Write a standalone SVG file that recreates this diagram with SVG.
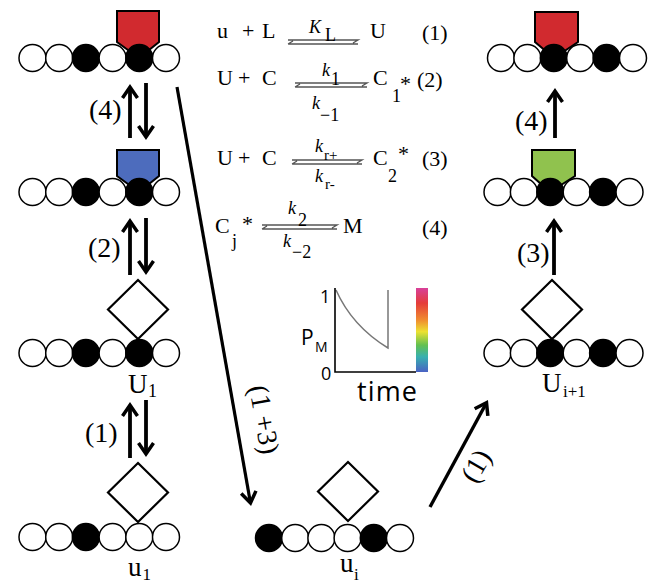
<svg xmlns="http://www.w3.org/2000/svg" width="648" height="584" viewBox="0 0 648 584">
<style>
.c{fill:#fff;stroke:#000;stroke-width:1.5}
.b{fill:#000;stroke:#000;stroke-width:1.5}
.dm{fill:#fff;stroke:#000;stroke-width:2.2}
.sq{stroke:#000;stroke-width:2}
.ar{stroke:#000;fill:none;stroke-width:3.8;marker-end:url(#ah)}
.tm{font-family:"Liberation Serif","Times New Roman",serif;fill:#000}
.eq{font-size:22px}
.sm{font-size:18px}
.lb{font-size:28px}
.nm{font-size:27px}
.sn{font-family:"Open Sans","Liberation Sans",sans-serif;fill:#000}
.hp{stroke:#555;stroke-width:1.4;fill:none}
</style>
<defs>
<marker id="ah" viewBox="-15 -10 20 20" markerWidth="20" markerHeight="20" refX="0" refY="0" markerUnits="userSpaceOnUse" orient="auto">
<path d="M-11,-7.5 L0,0 L-11,7.5" fill="none" stroke="#000" stroke-width="3.5"/>
</marker>
<linearGradient id="cb" x1="0" y1="0" x2="0" y2="1">
<stop offset="0" stop-color="#d8409a"/>
<stop offset="0.18" stop-color="#e53c3a"/>
<stop offset="0.38" stop-color="#f08c30"/>
<stop offset="0.52" stop-color="#ece232"/>
<stop offset="0.68" stop-color="#62c050"/>
<stop offset="0.82" stop-color="#38b0b0"/>
<stop offset="1" stop-color="#4a62c4"/>
</linearGradient>
</defs>

<g id="left-red">
<polygon class="sq" fill="#d12a2f" points="117,11 159,11 159,42 139,58 117,42"/>
<circle class="c" cx="32.5" cy="58" r="13.5"/>
<circle class="c" cx="59.2" cy="58" r="13.5"/>
<circle class="b" cx="85.9" cy="58" r="13.5"/>
<circle class="c" cx="112.6" cy="58" r="13.5"/>
<circle class="b" cx="139.3" cy="58" r="13.5"/>
<circle class="c" cx="166" cy="58" r="13.5"/>
</g>

<g id="left-blue">
<polygon class="sq" fill="#4d6cbd" points="117,150 159,150 159,176 139,192 117,176"/>
<circle class="c" cx="32.5" cy="192" r="13.5"/>
<circle class="c" cx="59.2" cy="192" r="13.5"/>
<circle class="b" cx="85.9" cy="192" r="13.5"/>
<circle class="c" cx="112.6" cy="192" r="13.5"/>
<circle class="b" cx="139.3" cy="192" r="13.5"/>
<circle class="c" cx="166" cy="192" r="13.5"/>
</g>

<g id="U1">
<polygon class="dm" points="138,280 168,309.5 138,339 108,309.5"/>
<circle class="c" cx="32.5" cy="353" r="13.5"/>
<circle class="c" cx="59.2" cy="353" r="13.5"/>
<circle class="b" cx="85.9" cy="353" r="13.5"/>
<circle class="c" cx="112.6" cy="353" r="13.5"/>
<circle class="b" cx="139.3" cy="353" r="13.5"/>
<circle class="c" cx="166" cy="353" r="13.5"/>
<text class="tm nm" x="128" y="393">U</text>
<text class="tm sm" x="148" y="397">1</text>
</g>

<g id="u1">
<polygon class="dm" points="138,463 168,492.5 138,522 108,492.5"/>
<circle class="c" cx="32.5" cy="537" r="13.5"/>
<circle class="c" cx="59.2" cy="537" r="13.5"/>
<circle class="b" cx="85.9" cy="537" r="13.5"/>
<circle class="c" cx="112.6" cy="537" r="13.5"/>
<circle class="c" cx="139.3" cy="537" r="13.5"/>
<circle class="c" cx="166" cy="537" r="13.5"/>
<text class="tm nm" x="128" y="576">u</text>
<text class="tm" font-size="17" x="142.5" y="580">1</text>
</g>

<g id="ui">
<polygon class="dm" points="348,462 378,491.5 348,521 318,491.5"/>
<circle class="b" cx="269" cy="538" r="13.5"/>
<circle class="c" cx="295.2" cy="538" r="13.5"/>
<circle class="c" cx="321.4" cy="538" r="13.5"/>
<circle class="c" cx="347.6" cy="538" r="13.5"/>
<circle class="b" cx="373.8" cy="538" r="13.5"/>
<circle class="c" cx="400" cy="538" r="13.5"/>
<text class="tm nm" x="340" y="572">u</text>
<text class="tm" font-size="17" x="354" y="580">i</text>
</g>

<g id="right-red">
<polygon class="sq" fill="#d12a2f" points="535,12 578,12 578,42 554,58 535,42"/>
<circle class="c" cx="501" cy="58" r="13.5"/>
<circle class="c" cx="527.4" cy="58" r="13.5"/>
<circle class="b" cx="553.8" cy="58" r="13.5"/>
<circle class="c" cx="580.2" cy="58" r="13.5"/>
<circle class="b" cx="606.6" cy="58" r="13.5"/>
<circle class="c" cx="633" cy="58" r="13.5"/>
</g>

<g id="right-green">
<polygon class="sq" fill="#90c24e" points="532,150 575,150 575,176 550,192 532,176"/>
<circle class="c" cx="497.5" cy="192" r="13.5"/>
<circle class="c" cx="523.9" cy="192" r="13.5"/>
<circle class="b" cx="550.3" cy="192" r="13.5"/>
<circle class="c" cx="576.7" cy="192" r="13.5"/>
<circle class="b" cx="603.1" cy="192" r="13.5"/>
<circle class="c" cx="629.5" cy="192" r="13.5"/>
</g>

<g id="Ui1">
<polygon class="dm" points="552,280 582,309.5 552,339 522,309.5"/>
<circle class="c" cx="497.5" cy="353" r="13.5"/>
<circle class="c" cx="523.9" cy="353" r="13.5"/>
<circle class="b" cx="550.3" cy="353" r="13.5"/>
<circle class="c" cx="576.7" cy="353" r="13.5"/>
<circle class="b" cx="603.1" cy="353" r="13.5"/>
<circle class="c" cx="629.5" cy="353" r="13.5"/>
<text class="tm nm" x="542" y="392">U</text>
<text class="tm" font-size="17" x="563" y="397">i+1</text>
</g>

<g id="connectors">
<line class="ar" x1="130" y1="138" x2="130" y2="87"/>
<line class="ar" x1="146" y1="83" x2="146" y2="137"/>
<line class="ar" x1="130" y1="275" x2="130" y2="221"/>
<line class="ar" x1="146" y1="218" x2="146" y2="272"/>
<line class="ar" x1="130" y1="458" x2="130" y2="405"/>
<line class="ar" x1="146" y1="400" x2="146" y2="454"/>
<line class="ar" x1="555" y1="138" x2="555" y2="91"/>
<line class="ar" x1="554" y1="275" x2="554" y2="221"/>
<line class="ar" style="stroke-width:3.2" x1="177" y1="87" x2="250.5" y2="503"/>
<line class="ar" style="stroke-width:3.4" x1="430" y1="507" x2="486.5" y2="402.7"/>
</g>

<g id="connector-labels">
<text class="tm lb" x="89" y="119">(4)</text>
<text class="tm lb" x="88" y="257">(2)</text>
<text class="tm lb" x="85" y="442">(1)</text>
<text class="tm lb" x="515" y="130">(4)</text>
<text class="tm lb" x="517" y="262">(3)</text>
<text class="tm lb" text-anchor="middle" transform="translate(262,420) rotate(80)" x="0" y="7">(1 +3)</text>
<text class="tm lb" text-anchor="middle" transform="translate(478,467) rotate(-60)" x="0" y="7">(1)</text>
</g>

<g id="equations">
<text class="tm eq" y="38"><tspan x="217">u</tspan><tspan x="242">+</tspan><tspan x="262">L</tspan></text>
<path class="hp" d="M288,40 H358 l-5,3 M288,44 H358 M288,44 l5,-3"/>
<text class="tm sm" x="309" y="33" font-style="italic">K</text>
<text class="tm sm" x="325" y="41">L</text>
<text class="tm eq" x="370" y="38">U</text>
<text class="tm eq" x="422" y="40">(1)</text>

<text class="tm eq" y="85"><tspan x="217">U</tspan><tspan x="238">+</tspan><tspan x="262">C</tspan></text>
<path class="hp" d="M295,83 H367 l-5,3 M295,87 H367 M295,87 l5,-3"/>
<text class="tm sm" x="322" y="76" font-style="italic">k</text>
<text class="tm sm" x="331" y="85">1</text>
<text class="tm sm" x="312" y="109" font-style="italic">k</text>
<text class="tm sm" x="320" y="121">−1</text>
<text class="tm eq" x="373" y="85">C</text>
<text class="tm sm" x="392" y="102">1</text>
<text class="tm eq" x="400" y="91">*</text>
<text class="tm eq" x="417" y="87">(2)</text>

<text class="tm eq" y="165"><tspan x="217">U</tspan><tspan x="238">+</tspan><tspan x="262">C</tspan></text>
<path class="hp" d="M292,160 H362 l-5,3 M292,164 H362 M292,164 l5,-3"/>
<text class="tm sm" x="315" y="152" font-style="italic">k</text>
<text class="tm" font-size="15" x="324" y="160">r+</text>
<text class="tm sm" x="315" y="182" font-style="italic">k</text>
<text class="tm" font-size="15" x="325" y="189">r-</text>
<text class="tm eq" x="373" y="165">C</text>
<text class="tm sm" x="388" y="182">2</text>
<text class="tm eq" x="398" y="161">*</text>
<text class="tm eq" x="422" y="166">(3)</text>

<text class="tm eq" x="215" y="233">C</text>
<text class="tm sm" x="232" y="247">j</text>
<text class="tm eq" x="242" y="231">*</text>
<path class="hp" d="M262,225 H337 l-5,3 M262,229 H337 M262,229 l5,-3"/>
<text class="tm sm" x="288" y="214" font-style="italic">k</text>
<text class="tm sm" x="298" y="226">2</text>
<text class="tm sm" x="283" y="247" font-style="italic">k</text>
<text class="tm sm" x="292" y="258">−2</text>
<text class="tm eq" x="343" y="233">M</text>
<text class="tm eq" x="422" y="235">(4)</text>
</g>

<g id="graph">
<rect x="416" y="288" width="12" height="84" fill="url(#cb)"/>
<path d="M336,290 Q352,326 388,348 V290" fill="none" stroke="#777" stroke-width="1.5"/>
<path d="M335,288 V372 H416" fill="none" stroke="#000" stroke-width="1.6"/>
<text class="sn" font-size="18" x="320" y="303">1</text>
<text class="sn" font-size="18" x="321" y="380">0</text>
<text class="sn" font-size="21" x="301" y="345">P</text>
<text class="sn" font-size="14" x="315" y="352">M</text>
<text class="sn" font-size="27" x="357" y="401" textLength="60" lengthAdjust="spacing">time</text>
</g>
</svg>
